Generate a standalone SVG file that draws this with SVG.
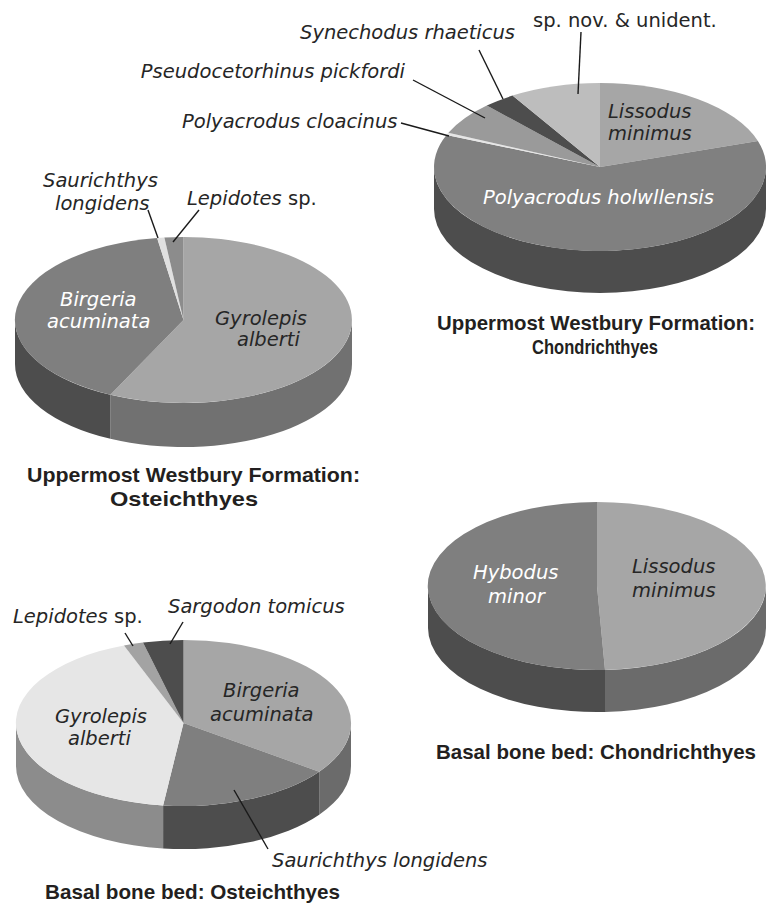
<svg xmlns="http://www.w3.org/2000/svg" width="766" height="914" viewBox="0 0 766 914">
<style>
.lbl{font-family:"DejaVu Sans","Liberation Sans",sans-serif;font-size:19.5px;fill:#262626}
.it{font-style:italic}
.w{fill:#ffffff}
.ttl{font-family:"Liberation Sans","Noto Sans",sans-serif;font-weight:bold;font-size:20.5px;fill:#231f20}
.ld{stroke:#1a1a1a;stroke-width:1.4;fill:none}
</style>
<rect width="766" height="914" fill="#ffffff"/>

<!-- Pie 1: Uppermost Westbury Formation: Chondrichthyes -->
<g id="pie-uwf-chondrichthyes">
  <path d="M766,167 A166,84 0 0 1 434,167 L434,209 A166,84 0 0 0 766,209 Z" fill="#4d4d4d"/>
  <path d="M600,167 L600,83 A166,84 0 0 1 757.9,141 Z" fill="#a6a6a6"/>
  <path d="M600,167 L757.9,141 A166,84 0 1 1 446.5,135 Z" fill="#808080"/>
  <path d="M600,167 L446.5,135 A166,84 0 0 1 448.4,132.8 Z" fill="#e6e6e6"/>
  <path d="M600,167 L448.4,132.8 A166,84 0 0 1 486.8,105.6 Z" fill="#9a9a9a"/>
  <path d="M600,167 L486.8,105.6 A166,84 0 0 1 512.5,95.6 Z" fill="#4d4d4d"/>
  <path d="M600,167 L512.5,95.6 A166,84 0 0 1 600,83 Z" fill="#bdbdbd"/>
  <text class="lbl it" x="608" y="118">Lissodus</text>
  <text class="lbl it" x="608" y="140">minimus</text>
  <text class="lbl it w" x="483" y="204">Polyacrodus holwllensis</text>
  <text class="lbl" x="533" y="27">sp. nov. &amp; unident.</text>
  <text class="lbl it" x="300" y="39">Synechodus rhaeticus</text>
  <text class="lbl it" x="405" y="78" text-anchor="end">Pseudocetorhinus pickfordi</text>
  <text class="lbl it" x="182" y="128">Polyacrodus cloacinus</text>
  <text class="ttl" x="437" y="330" textLength="318" lengthAdjust="spacingAndGlyphs">Uppermost Westbury Formation:</text>
  <text class="ttl" x="532" y="354" textLength="126" lengthAdjust="spacingAndGlyphs">Chondrichthyes</text>
</g>

<!-- Pie 2: Uppermost Westbury Formation: Osteichthyes -->
<g id="pie-uwf-osteichthyes">
  <path d="M352,320 A168.5,83 0 0 1 110.4,394.8 L110.4,438.8 A168.5,83 0 0 0 352,364 Z" fill="#717171"/>
  <path d="M110.4,394.8 A168.5,83 0 0 1 15,320 L15,364 A168.5,83 0 0 0 110.4,438.8 Z" fill="#4d4d4d"/>
  <path d="M183.5,320 L183.5,237 A168.5,83 0 1 1 110.4,394.8 Z" fill="#a6a6a6"/>
  <path d="M183.5,320 L110.4,394.8 A168.5,83 0 0 1 157.1,238 Z" fill="#7f7f7f"/>
  <path d="M183.5,320 L157.1,238 A168.5,83 0 0 1 164.4,237.5 Z" fill="#e0e0e0"/>
  <path d="M183.5,320 L164.4,237.5 A168.5,83 0 0 1 183.5,237 Z" fill="#8c8c8c"/>
  <text class="lbl it w" x="60" y="306">Birgeria</text>
  <text class="lbl it w" x="47" y="328">acuminata</text>
  <text class="lbl it" x="215" y="325">Gyrolepis</text>
  <text class="lbl it" x="237" y="346">alberti</text>
  <text class="lbl it" x="43" y="187">Saurichthys</text>
  <text class="lbl it" x="55" y="210">longidens</text>
  <text class="lbl" x="187" y="205"><tspan class="it">Lepidotes</tspan> sp.</text>
  <text class="ttl" x="27" y="482" textLength="333" lengthAdjust="spacingAndGlyphs">Uppermost Westbury Formation:</text>
  <text class="ttl" x="110" y="506" textLength="148" lengthAdjust="spacingAndGlyphs">Osteichthyes</text>
</g>

<!-- Pie 3: Basal bone bed: Osteichthyes -->
<g id="pie-bbb-osteichthyes">
  <path d="M351,723 A167.5,83 0 0 1 319.2,771.7 L319.2,814.7 A167.5,83 0 0 0 351,766 Z" fill="#6b6b6b"/>
  <path d="M319.2,771.7 A167.5,83 0 0 1 163.1,805.4 L163.1,848.4 A167.5,83 0 0 0 319.2,814.7 Z" fill="#4d4d4d"/>
  <path d="M163.1,805.4 A167.5,83 0 0 1 16,723 L16,766 A167.5,83 0 0 0 163.1,848.4 Z" fill="#8c8c8c"/>
  <path d="M183.5,723 L183.5,640 A167.5,83 0 0 1 319.2,771.7 Z" fill="#a6a6a6"/>
  <path d="M183.5,723 L319.2,771.7 A167.5,83 0 0 1 163.1,805.4 Z" fill="#7f7f7f"/>
  <path d="M183.5,723 L163.1,805.4 A167.5,83 0 0 1 124,645.4 Z" fill="#e6e6e6"/>
  <path d="M183.5,723 L124,645.4 A167.5,83 0 0 1 143,642.5 Z" fill="#a3a3a3"/>
  <path d="M183.5,723 L143,642.5 A167.5,83 0 0 1 183.5,640 Z" fill="#4d4d4d"/>
  <text class="lbl it" x="223" y="697">Birgeria</text>
  <text class="lbl it" x="210" y="721">acuminata</text>
  <text class="lbl it" x="55" y="723">Gyrolepis</text>
  <text class="lbl it" x="68" y="745">alberti</text>
  <text class="lbl" x="13" y="623"><tspan class="it">Lepidotes</tspan> sp.</text>
  <text class="lbl it" x="168" y="613">Sargodon tomicus</text>
  <text class="lbl it" x="272" y="867">Saurichthys longidens</text>
  <text class="ttl" x="45" y="899" textLength="295" lengthAdjust="spacingAndGlyphs">Basal bone bed: Osteichthyes</text>
</g>

<!-- Pie 4: Basal bone bed: Chondrichthyes -->
<g id="pie-bbb-chondrichthyes">
  <path d="M766,586 A169,84 0 0 1 605,669.9 L605,711.9 A169,84 0 0 0 766,628 Z" fill="#6b6b6b"/>
  <path d="M605,669.9 A169,84 0 0 1 428,586 L428,628 A169,84 0 0 0 605,711.9 Z" fill="#4d4d4d"/>
  <path d="M597,586 L597,502 A169,84 0 0 1 605,669.9 Z" fill="#a6a6a6"/>
  <path d="M597,586 L605,669.9 A169,84 0 1 1 597,502 Z" fill="#7f7f7f"/>
  <text class="lbl it w" x="473" y="579">Hybodus</text>
  <text class="lbl it w" x="488" y="603">minor</text>
  <text class="lbl it" x="632" y="573">Lissodus</text>
  <text class="lbl it" x="632" y="597">minimus</text>
  <text class="ttl" x="436" y="759" textLength="320" lengthAdjust="spacingAndGlyphs">Basal bone bed: Chondrichthyes</text>
</g>

<g id="connectors">
  <line class="ld" x1="581" y1="32" x2="578" y2="94"/>
  <line class="ld" x1="479" y1="50" x2="503" y2="99"/>
  <line class="ld" x1="413" y1="80" x2="485" y2="118"/>
  <line class="ld" x1="401" y1="123" x2="449" y2="136"/>
  <line class="ld" x1="148" y1="210" x2="158" y2="238"/>
  <line class="ld" x1="199" y1="210" x2="173" y2="242"/>
  <line class="ld" x1="125" y1="633" x2="133" y2="646"/>
  <line class="ld" x1="183" y1="622" x2="170" y2="644"/>
  <line class="ld" x1="234" y1="790" x2="268" y2="849"/>
</g>
</svg>
